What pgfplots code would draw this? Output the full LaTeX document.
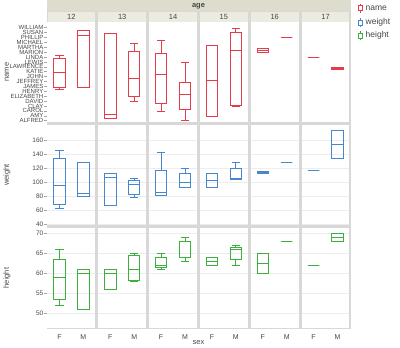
\documentclass[border=0pt]{standalone}
\usepackage{fontspec}
\setmainfont{Liberation Sans}
\usepackage{pgfplots}
\pgfplotsset{compat=1.18}
\usepgfplotslibrary{statistics}
\definecolor{cname}{RGB}{228,60,72}
\definecolor{cweight}{RGB}{70,135,205}
\definecolor{cheight}{RGB}{60,175,60}
\definecolor{sepgray}{RGB}{216,216,216}
\definecolor{agestrip}{RGB}{222,220,205}
\definecolor{colstrip}{RGB}{236,235,226}
\definecolor{txt}{RGB}{70,70,70}
\newcommand{\bp}[7]{\addplot[color=#1, fill=none, mark=none, line width=0.9pt, solid, boxplot prepared={draw direction=y, draw position=#2, lower whisker=#3, lower quartile=#4, median=#5, upper quartile=#6, upper whisker=#7, box extend=0.48, whisker extend=0.34}] coordinates {};}
\pgfplotsset{
  /pgf/number format/assume math mode=true,
  panel/.style={scale only axis, width=47.83pt, height=100pt, xmin=0.5, xmax=2.5,
    anchor=south west, axis line style={draw=none},
    axis background/.style={fill=white},
    xtick={1,2}, xticklabels={}, xtick style={draw=none}, ytick style={draw=none},
    major tick length=3pt, tick align=outside, ytick pos=left, xtick pos=bottom,
    ticklabel style={font=\fontsize{6.5}{7}\selectfont, text=txt},
    major grid style={draw=gray!14, line width=0.7pt}},
  namerow/.style={ymin=0.73, ymax=21.16, ytick={1,...,20}},
  weightrow/.style={ymin=39, ymax=181.25, ytick={40,60,...,160}, ymajorgrids},
  heightrow/.style={ymin=46.33, ymax=71.33, ytick={50,55,...,70}, ymajorgrids},
  firstcol/.style={ytick style={draw=gray!70, line width=0.5pt}, yticklabel style={inner sep=1pt}},
  othercol/.style={yticklabels={}},
  bottomrow/.style={xticklabels={F,M}, xticklabel style={font=\fontsize{7}{8}\selectfont, text=txt}},
}
\begin{document}
\begin{tikzpicture}[x=1pt,y=1pt]
\path[use as bounding box] (0,0) rectangle (400,348);
\fill[sepgray] (46.5,19) rectangle (350.5,337.5);
\fill[agestrip] (46.5,337) rectangle (350.5,348);
\node[font=\bfseries\fontsize{7.5}{8}\selectfont, text=txt] at (198.5,342) {age};
\foreach \i/\a in {0/12,1/13,2/14,3/15,4/16,5/17} {
  \pgfmathsetmacro{\xl}{47.5+50.83*\i}
  \fill[colstrip] (\xl,326) rectangle ({\xl+47.83},336);
  \node[font=\fontsize{7.5}{8}\selectfont, text=txt] at ({\xl+23.9},331) {\a};
}
% ---------- name row ----------
\begin{axis}[panel, namerow, firstcol, at={(47.5pt,226pt)},
  yticklabels={ALFRED,AMY,CAROL,CLAY,DAVID,ELIZABETH,HENRY,JAMES,JEFFREY,JOHN,KATIE,LAWRENCE,LEWIS,LINDA,MARION,MARTHA,MICHAEL,PHILLIP,SUSAN,WILLIAM},
  yticklabel style={font=\fontsize{6}{6}\selectfont}]
\bp{cname}{1}{7.47}{7.81}{10.88}{13.74}{14.35}
\bp{cname}{2}{7.81}{7.81}{18.44}{19.39}{19.39}
\end{axis}
\begin{axis}[panel, namerow, othercol, at={(98.33pt,226pt)}]
\bp{cname}{1}{1.48}{1.48}{2.36}{18.85}{18.85}
\bp{cname}{2}{4.95}{5.97}{9.65}{15.10}{16.87}
\end{axis}
\begin{axis}[panel, namerow, othercol, at={(149.16pt,226pt)}]
\bp{cname}{1}{2.91}{4.47}{10.40}{14.83}{17.35}
\bp{cname}{2}{1.0}{3.38}{6.38}{8.83}{12.92}
\end{axis}
\begin{axis}[panel, namerow, othercol, at={(199.99pt,226pt)}]
\bp{cname}{1}{1.82}{1.82}{9.17}{16.40}{16.40}
\bp{cname}{2}{4.0}{4.20}{15.37}{19.05}{19.87}
\end{axis}
\begin{axis}[panel, namerow, othercol, at={(250.82pt,226pt)}]
\bp{cname}{1}{14.90}{14.90}{15.37}{15.85}{15.85}
\bp{cname}{2}{17.96}{17.96}{17.96}{17.96}{17.96}
\end{axis}
\begin{axis}[panel, namerow, othercol, at={(301.65pt,226pt)}]
\bp{cname}{1}{13.87}{13.87}{13.87}{13.87}{13.87}
\bp{cname}{2}{11.5}{11.5}{11.7}{11.9}{11.9}
\end{axis}
% ---------- weight row ----------
\begin{axis}[panel, weightrow, firstcol, at={(47.5pt,123pt)}]
\bp{cweight}{1}{63.2}{68.0}{95.5}{133.9}{145.3}
\bp{cweight}{2}{78.9}{78.9}{84.1}{127.7}{127.7}
\end{axis}
\begin{axis}[panel, weightrow, othercol, at={(98.33pt,123pt)}]
\bp{cweight}{1}{67.0}{67.0}{106.9}{112.6}{112.6}
\bp{cweight}{2}{78.4}{82.2}{96.9}{102.6}{105.0}
\end{axis}
\begin{axis}[panel, weightrow, othercol, at={(149.16pt,123pt)}]
\bp{cweight}{1}{81.3}{81.3}{84.6}{116.4}{142.5}
\bp{cweight}{2}{92.2}{92.2}{99.3}{112.6}{119.2}
\end{axis}
\begin{axis}[panel, weightrow, othercol, at={(199.99pt,123pt)}]
\bp{cweight}{1}{91.7}{91.7}{102.6}{112.6}{112.6}
\bp{cweight}{2}{104.0}{104.0}{105.0}{119.7}{128.2}
\end{axis}
\begin{axis}[panel, weightrow, othercol, at={(250.82pt,123pt)}]
\bp{cweight}{1}{112.6}{112.6}{114.0}{115.0}{115.0}
\bp{cweight}{2}{128.2}{128.2}{128.2}{128.2}{128.2}
\end{axis}
\begin{axis}[panel, weightrow, othercol, at={(301.65pt,123pt)}]
\bp{cweight}{1}{116.8}{116.8}{116.8}{116.8}{116.8}
\bp{cweight}{2}{133.9}{133.9}{153.8}{173.3}{173.3}
\end{axis}
% ---------- height row ----------
\begin{axis}[panel, heightrow, firstcol, bottomrow, at={(47.5pt,20pt)}]
\bp{cheight}{1}{52}{53.5}{59}{63.5}{66}
\bp{cheight}{2}{51}{51}{60}{61}{61}
\end{axis}
\begin{axis}[panel, heightrow, othercol, bottomrow, at={(98.33pt,20pt)}]
\bp{cheight}{1}{56}{56}{60}{61}{61}
\bp{cheight}{2}{58}{58.17}{61}{64.5}{65}
\end{axis}
\begin{axis}[panel, heightrow, othercol, bottomrow, at={(149.16pt,20pt)}]
\bp{cheight}{1}{61}{61.5}{62}{64}{65}
\bp{cheight}{2}{63}{64}{64}{68}{69}
\end{axis}
\begin{axis}[panel, heightrow, othercol, bottomrow, at={(199.99pt,20pt)}]
\bp{cheight}{1}{62}{62}{63}{64}{64}
\bp{cheight}{2}{62}{63.5}{66}{66.5}{67}
\end{axis}
\begin{axis}[panel, heightrow, othercol, bottomrow, at={(250.82pt,20pt)}]
\bp{cheight}{1}{60}{60}{62.5}{65}{65}
\bp{cheight}{2}{68}{68}{68}{68}{68}
\end{axis}
\begin{axis}[panel, heightrow, othercol, bottomrow, at={(301.65pt,20pt)}]
\bp{cheight}{1}{62}{62}{62}{62}{62}
\bp{cheight}{2}{68}{68}{69}{70}{70}
\end{axis}
% ---------- axis labels ----------
\node[rotate=90, font=\fontsize{7.5}{8}\selectfont, text=txt] at (7,276) {name};
\node[rotate=90, font=\fontsize{7.5}{8}\selectfont, text=txt] at (7,173) {weight};
\node[rotate=90, font=\fontsize{7.5}{8}\selectfont, text=txt] at (7,70) {height};
\node[font=\fontsize{7.5}{8}\selectfont, text=txt] at (198.5,5) {sex};
% ---------- legend ----------
\foreach \c/\t/\yy in {cname/name/339.7, cweight/weight/325.3, cheight/height/312.3} {
  \draw[\c, line width=0.7pt] (358.8,\yy-2.5) rectangle (362.6,\yy+2.5);
  \draw[\c, line width=0.7pt] (360.7,\yy+2.5) -- (360.7,\yy+4.5) (360.7,\yy-2.5) -- (360.7,\yy-4.5);
  \node[anchor=west, inner sep=0pt, font=\fontsize{8.5}{9}\selectfont, text=txt] at (365.5,\yy) {\t};
}
\end{tikzpicture}
\end{document}
